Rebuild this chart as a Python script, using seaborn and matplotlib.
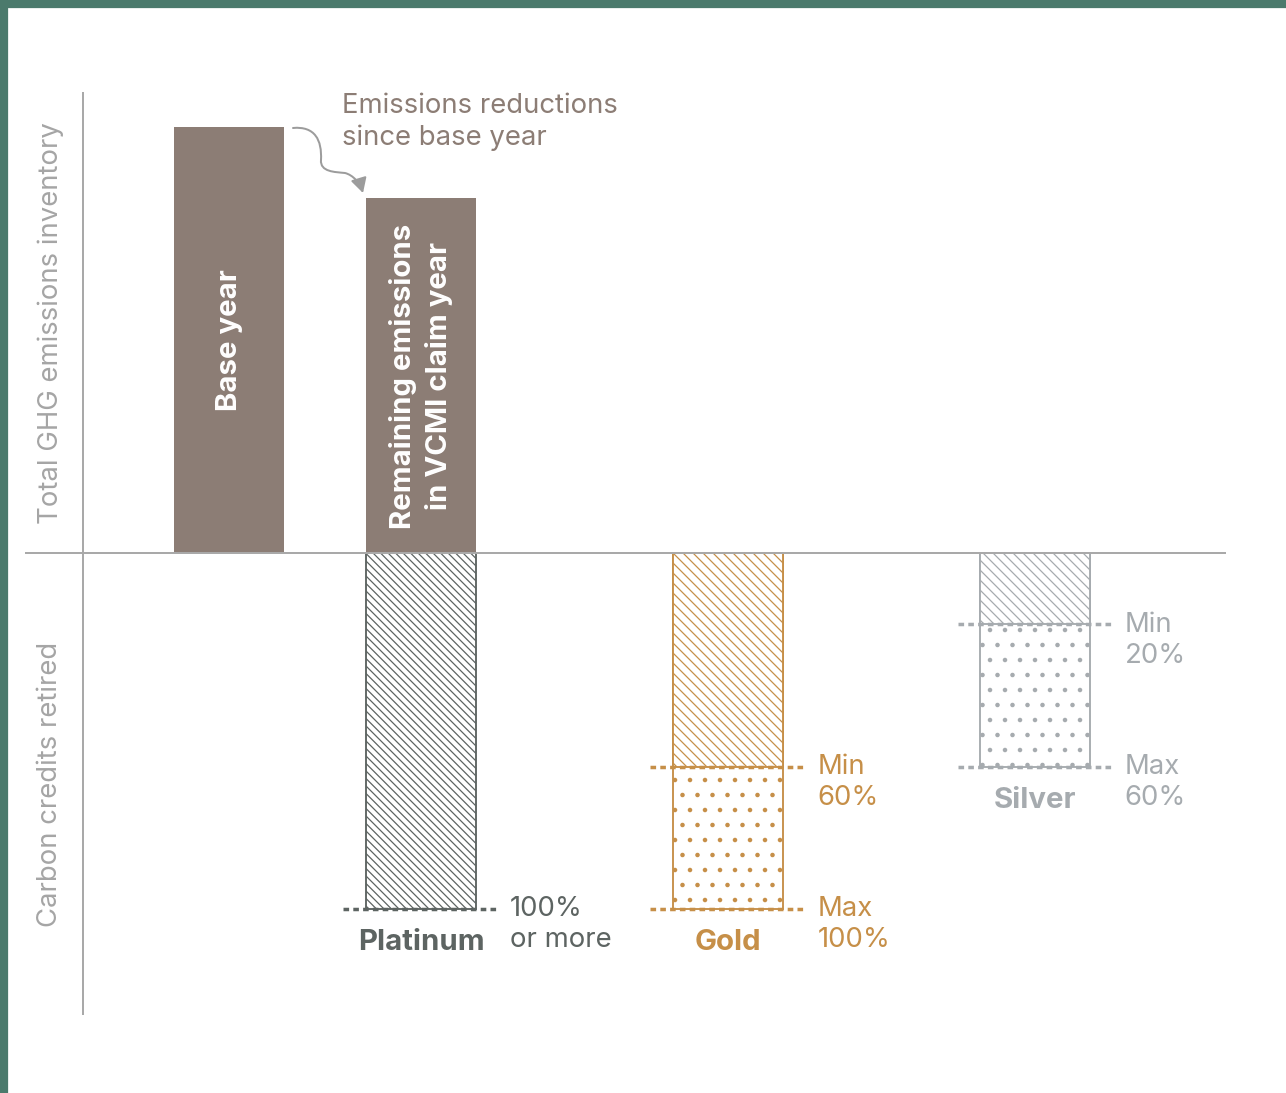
import matplotlib
matplotlib.use("Agg")
import matplotlib.pyplot as plt
import matplotlib as mpl
from matplotlib.path import Path
from matplotlib.patches import FancyArrowPatch, Rectangle
import seaborn as sns
import pandas as pd

# ---------------- data ----------------
top_labels = ["Base year", "Remaining emissions\nin VCMI claim year"]
top_values = [120, 100]            # % of remaining emissions (remaining = 100)
tiers = ["Platinum", "Gold", "Silver"]
tier_min = [100, 60, 20]           # minimum % of remaining emissions retired
tier_max = [100, 100, 60]          # maximum % retired
tier_notes = [["100%\nor more"], ["Min\n60%", "Max\n100%"], ["Min\n20%", "Max\n60%"]]
axis_labels = ["Total GHG emissions inventory", "Carbon credits retired"]
annotation = "Emissions reductions\nsince base year"

# ---------------- style ----------------
sns.set_theme(style="white")
plt.rcParams["font.family"] = ["Inter", "DejaVu Sans"]

TAUPE = "#8c7d75"
PLAT = "#5d6462"
GOLD = "#c68f48"
SILVER = "#a6abaf"
AXIS = "#a9a9a9"
LABEL = "#a5a5a5"
GREEN = "#4b7a6c"

DPI = 90
W, H = 1286, 1093
fig = plt.figure(figsize=(W / DPI, H / DPI), dpi=DPI)
fig.patch.set_facecolor("white")

# axes placed in pixel terms
left_px, right_px, top_px, bot_px = 25, 1226, 92, 1015
ax = fig.add_axes([left_px / W, 1 - bot_px / H, (right_px - left_px) / W, (bot_px - top_px) / H])
ax.set_facecolor("none")

bar_w = 0.573
top_x = [0, 1]
tier_x = [1, 2.6, 4.2]
tier_col = [PLAT, GOLD, SILVER]
tier_hatch = ["\\\\\\\\", "\\\\\\", "\\\\\\"]

# top bars (emissions)
df_top = pd.DataFrame({"x": top_x, "value": top_values, "label": top_labels})
sns.barplot(data=df_top, x="x", y="value", native_scale=True, width=bar_w,
            color=TAUPE, saturation=1, errorbar=None, linewidth=0, ax=ax, zorder=2)


def tier_bar(x, value, col, hatch, hlw):
    n0 = len(ax.patches)
    with mpl.rc_context({"hatch.linewidth": hlw}):
        sns.barplot(x=[x], y=[value], native_scale=True, width=bar_w, color=col,
                    saturation=1, errorbar=None, hatch=hatch, linewidth=1.5,
                    ax=ax, zorder=3)
    for p in ax.patches[n0:]:
        p.set_facecolor("white")
        p.set_edgecolor(col)
        try:
            p.set_hatch_linewidth(hlw)
        except Exception:
            pass


for x, mn, mx, col, hatch in zip(tier_x, tier_min, tier_max, tier_col, tier_hatch):
    if mx > mn:
        tier_bar(x, -mx, col, ".", 1.2)     # dotted range
    tier_bar(x, -mn, col, hatch, 1.0)       # hatched minimum

# dashed threshold lines
for x, mn, mx, col in zip(tier_x, tier_min, tier_max, tier_col):
    for v in sorted(set([mn, mx])):
        ax.hlines(-v, x - 0.405, x + 0.395, colors=col, linewidth=2.8,
                  linestyles=(0, (1.6, 1.2)), zorder=5)

# axis lines
ax.axhline(0, color=AXIS, lw=1.6, zorder=4)
ax.axvline(-0.76, color=AXIS, lw=1.6, zorder=4)

ax.set_xlim((left_px - 229) / 192, (right_px - 229) / 192)
ax.set_ylim(-130, 130)
for s in ax.spines.values():
    s.set_visible(False)
ax.set_xticks([])
ax.set_yticks([])
ax.set_xlabel("")
ax.set_ylabel("")

FS = 22
FSB = 23.5

# labels inside top bars
for x, v, lab in zip(top_x, top_values, top_labels):
    ax.text(x, v / 2, lab, rotation=90, ha="center", va="center", color="white",
            fontsize=FSB, fontweight="bold", linespacing=1.35, multialignment="center",
            zorder=6)

# axis titles
ax.text(-0.93, 65, axis_labels[0], rotation=90, ha="center", va="center",
        color=LABEL, fontsize=FS)
ax.text(-0.93, -65, axis_labels[1], rotation=90, ha="center", va="center",
        color=LABEL, fontsize=FS)

# annotation text
ax.text(0.589, 121.5, annotation, ha="left", va="center", color=TAUPE,
        fontsize=FS, linespacing=1.27)

# tier names and notes
name_y = [-109.6, -109.6, -69.6]
for x, name, col, ny, mn, mx, notes in zip(tier_x, tiers, tier_col, name_y,
                                            tier_min, tier_max, tier_notes):
    ax.text(x, ny, name, ha="center", va="center", color=col, fontsize=FSB,
            fontweight="bold")
    nx = x + 0.464
    vals = sorted(set([mn, mx]))
    for v, note in zip(vals, notes):
        ax.text(nx, -v - 4.5, note, ha="left", va="center", color=col,
                fontsize=FS, linespacing=1.27)

# curved arrow (figure pixel coords)
def P(x, y):
    return (x / W, 1 - y / H)

verts = [P(293, 128), P(315, 126), P(322, 140), P(321, 160),
         P(320, 172), P(335, 172), P(345, 173),
         P(353, 175), P(360, 183), P(363, 193)]
codes = [Path.MOVETO] + [Path.CURVE4] * 9
arrow = FancyArrowPatch(path=Path(verts, codes), arrowstyle="-|>,head_length=0.55,head_width=0.3",
                        mutation_scale=18, color="#9c9c9c", lw=1.6,
                        transform=fig.transFigure)
fig.patches.append(arrow)

# green frame
fig.patches.append(Rectangle((0, 1 - 7 / H), 1, 7 / H, transform=fig.transFigure,
                             color=GREEN, zorder=10))
fig.patches.append(Rectangle((0, 0), 7 / W, 1, transform=fig.transFigure,
                             color=GREEN, zorder=10))

fig.savefig("out.png", dpi=DPI)
